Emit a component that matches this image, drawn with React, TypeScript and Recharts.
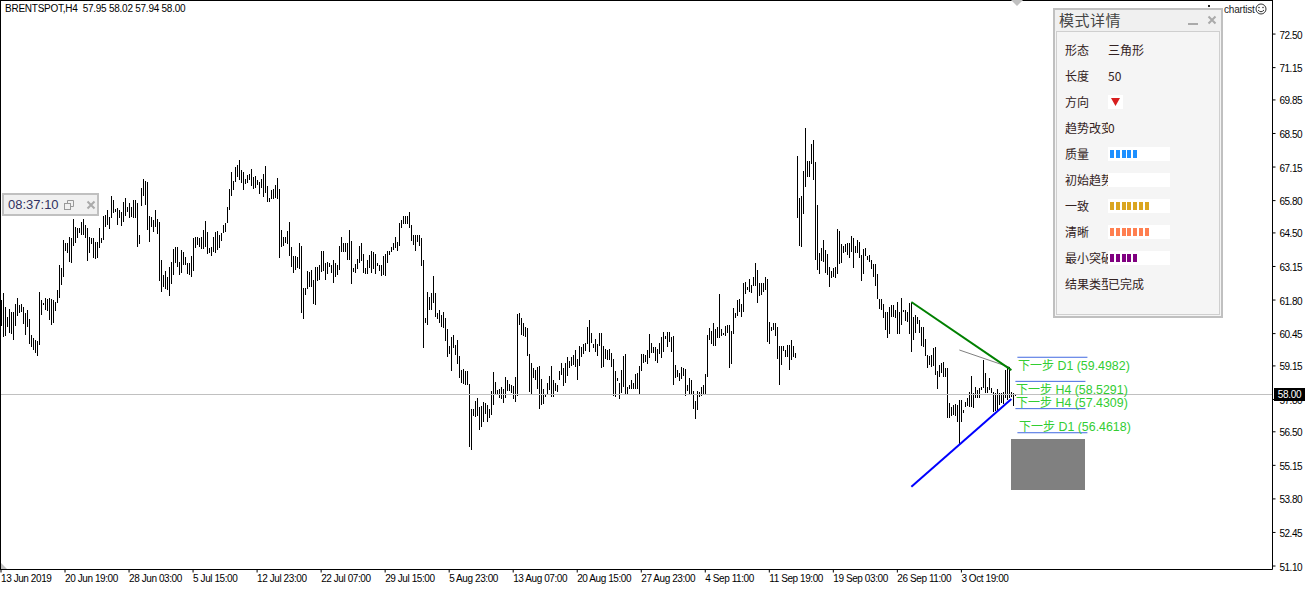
import React from "react";
import { BarChart, Bar, XAxis, YAxis, ReferenceLine, ReferenceArea } from "recharts";

const highs = [
61.80,62.07,61.50,61.13,61.42,61.33,61.33,61.64,61.87,61.60,
61.66,61.53,61.29,61.40,61.02,60.39,60.26,60.19,60.16,62.13,
61.80,61.70,61.87,61.85,61.87,61.83,61.80,61.73,62.20,63.21,
63.07,64.21,64.08,64.08,64.35,64.28,65.08,64.75,64.68,64.68,
64.95,65.06,64.82,64.68,64.32,64.28,64.28,64.15,64.15,64.68,
64.28,65.18,65.22,65.42,65.15,65.98,65.82,65.45,65.49,65.42,
65.35,65.75,65.89,65.55,65.71,65.53,65.82,65.82,65.69,64.41,
66.29,66.65,66.60,66.56,65.18,65.15,65.02,65.42,65.08,64.95,
63.41,62.80,62.98,62.74,63.14,63.34,63.84,63.92,63.94,63.34,
63.81,63.74,63.54,63.30,63.27,63.57,64.28,64.35,64.32,64.28,
64.35,64.61,64.98,64.55,63.88,63.94,64.35,64.55,64.59,64.41,
64.48,64.82,64.88,65.53,66.25,66.96,66.60,67.14,67.23,67.43,
67.03,66.96,66.65,66.83,66.89,67.06,66.76,66.79,66.63,66.56,
66.65,66.87,67.19,66.38,65.89,66.22,66.25,66.43,66.69,66.26,
64.61,64.32,64.32,64.59,64.92,63.94,63.57,63.57,63.52,64.08,
63.97,62.27,62.27,62.98,62.94,63.01,62.60,63.14,63.14,63.21,
63.78,63.78,63.27,63.34,63.27,63.21,63.43,63.27,63.21,63.97,
64.34,64.10,64.08,64.10,64.61,64.18,63.07,63.25,63.47,63.97,
64.10,63.67,63.07,63.41,63.61,63.78,63.74,63.67,63.27,63.21,
63.21,63.57,63.67,63.78,63.78,63.94,64.10,64.32,64.14,64.88,
65.02,65.18,65.18,65.18,65.34,64.81,64.41,64.41,64.41,64.41,
64.28,63.41,61.06,62.13,61.93,62.07,62.76,62.09,61.29,61.39,
61.19,61.33,61.06,60.62,59.95,60.32,60.39,59.99,60.21,59.54,
58.98,59.01,58.95,58.95,58.42,57.40,57.40,57.73,57.84,57.48,
57.53,57.71,57.67,57.57,57.40,58.15,58.89,58.51,58.18,58.24,
58.31,58.24,58.69,58.58,58.42,58.38,58.34,58.71,61.23,61.29,
61.06,60.86,60.70,60.66,59.62,59.28,59.05,58.98,59.11,59.14,
58.61,58.24,58.04,58.47,58.74,59.14,58.58,58.47,58.38,58.95,
59.25,59.05,59.28,59.49,59.36,59.52,59.58,59.79,59.41,59.95,
59.92,60.03,60.08,60.72,60.99,60.48,60.03,60.25,60.03,60.46,
60.48,59.95,59.85,59.81,59.85,59.68,59.41,58.95,58.65,58.47,
58.98,59.54,59.62,58.31,58.38,58.58,58.47,58.82,58.87,59.14,
59.62,59.62,59.58,59.79,60.43,60.08,59.92,59.92,59.85,60.06,
60.30,60.52,60.35,60.51,60.51,60.32,60.35,59.18,58.98,58.88,
59.09,59.05,59.01,58.38,58.65,58.58,58.15,57.75,58.15,58.11,
58.29,58.38,58.82,60.39,60.66,60.56,60.86,60.62,60.70,62.04,
60.62,60.46,60.75,60.79,60.79,60.56,61.46,61.29,61.80,61.83,
61.66,62.47,62.54,62.33,62.63,62.40,62.74,63.27,63.01,62.47,
62.47,62.50,62.71,62.66,60.93,60.70,60.86,60.89,60.70,59.95,
59.95,59.95,59.81,59.99,59.99,60.19,59.95,59.68,67.59,65.89,
65.98,66.99,68.74,67.39,67.39,68.07,68.24,67.36,65.62,63.70,
63.88,64.21,63.81,63.65,63.14,62.98,63.07,63.14,64.64,64.59,
64.05,63.97,64.05,64.08,64.08,64.37,64.28,63.97,64.21,64.15,
63.61,63.84,63.88,63.57,63.61,63.43,63.25,63.25,62.84,61.83,
61.83,61.64,61.33,61.33,61.53,61.60,61.60,61.40,61.73,61.33,
61.87,61.40,61.40,61.33,61.69,61.69,61.13,61.20,61.13,60.99,
60.73,60.73,60.22,59.59,59.55,59.59,59.89,59.92,58.96,59.18,
59.28,59.32,59.05,59.05,57.64,57.51,57.58,57.62,57.58,57.78,
57.78,57.38,57.71,57.84,58.11,58.74,58.05,58.29,58.18,58.25,
58.31,59.39,58.85,58.31,58.65,58.25,58.11,58.07,58.21,58.05,
58.05,58.11,58.98,59.09,59.09,58.11,58.05,58.02,
];

const lows = [
60.75,60.30,60.32,60.73,60.46,60.46,60.19,60.75,61.13,61.29,
61.33,60.86,60.39,60.73,60.03,59.92,59.79,59.65,59.55,59.99,
61.20,61.60,61.40,61.37,60.99,60.79,60.86,61.37,61.66,61.87,
62.40,62.74,63.74,63.68,63.34,63.27,64.01,64.11,64.28,64.48,
64.41,64.41,64.28,63.34,63.68,64.05,63.47,63.47,63.52,63.88,
64.08,64.21,64.75,64.82,64.68,65.08,65.31,65.31,64.82,65.08,
64.78,64.95,65.15,65.35,65.12,65.12,65.11,65.08,63.94,64.05,
65.58,65.98,65.62,64.61,64.15,64.75,64.55,64.75,64.48,62.58,
62.13,62.33,62.27,62.20,61.97,62.47,62.80,63.27,63.14,62.80,
62.87,63.21,63.21,62.87,62.80,62.74,62.94,63.92,64.01,63.92,
63.88,63.84,63.92,63.68,63.68,63.58,63.74,63.70,63.81,63.88,
64.15,64.48,64.51,64.88,65.39,65.98,66.22,66.52,66.73,66.63,
66.49,66.22,66.43,66.49,66.63,66.36,66.29,66.29,66.43,66.09,
66.29,65.96,66.12,65.75,65.71,65.85,65.85,65.89,65.85,63.47,
63.92,63.94,64.08,64.08,63.57,63.14,62.87,63.01,63.07,63.03,
61.29,61.02,61.97,62.27,62.33,62.31,61.64,61.60,62.58,62.60,
62.94,62.98,62.58,62.84,63.11,62.90,62.49,62.71,62.80,63.00,
63.74,63.74,63.70,63.41,63.41,62.47,62.90,62.90,63.07,63.27,
63.38,62.90,62.84,62.84,63.07,62.90,63.07,62.87,63.14,62.98,
62.76,62.80,62.80,63.30,63.61,63.74,63.81,63.88,63.78,63.94,
64.68,64.85,64.85,64.85,64.68,64.18,64.01,63.78,64.14,63.97,
63.14,59.88,60.86,60.79,61.39,61.39,61.66,61.13,61.06,60.86,
60.70,60.70,60.12,59.49,59.62,58.95,59.85,59.58,59.25,58.65,
58.44,58.42,58.38,58.38,55.90,55.74,57.13,57.10,57.10,56.57,
56.70,56.90,57.24,56.90,57.04,57.17,57.57,58.04,57.98,57.88,
57.84,57.67,57.84,58.15,58.15,58.07,57.80,57.71,57.93,60.79,
60.39,60.32,60.30,59.52,58.11,57.98,58.65,58.58,58.24,57.40,
57.57,57.64,57.93,58.04,58.18,57.91,57.91,58.15,58.11,58.58,
58.78,58.34,58.47,58.71,59.09,59.14,59.18,59.11,58.55,59.14,
59.52,59.62,59.76,60.05,59.72,60.08,59.85,59.72,59.54,59.92,
59.09,59.11,59.45,59.39,59.41,59.11,57.91,57.91,58.51,57.84,
58.04,58.28,57.98,57.98,58.21,58.21,58.24,58.21,58.21,58.02,
58.92,59.25,59.28,59.22,59.45,59.66,59.68,59.36,59.28,59.62,
59.44,59.72,60.22,59.92,60.12,59.72,58.37,58.65,58.69,58.55,
58.61,58.71,57.91,58.15,58.02,57.98,57.44,57.04,57.40,57.91,
57.94,58.02,58.02,58.69,60.16,60.03,59.92,59.92,60.26,60.26,
60.32,60.39,60.35,60.46,59.05,59.25,60.43,61.10,61.15,61.29,
61.15,61.29,62.07,62.20,62.09,62.07,62.36,62.36,61.69,61.93,
61.98,62.13,62.20,60.12,60.06,60.52,60.56,60.35,59.41,58.38,
59.18,59.76,59.52,59.52,58.98,59.39,59.49,59.47,65.11,63.94,
63.94,65.26,66.36,66.76,66.76,67.26,66.63,63.41,63.01,62.84,
63.34,63.34,62.87,62.80,62.33,62.71,62.71,62.71,62.84,63.27,
63.30,63.70,63.74,63.61,63.47,63.74,63.07,63.70,63.68,63.52,
62.58,62.84,63.54,63.41,63.34,63.07,62.74,62.36,61.83,61.42,
61.40,61.06,60.59,60.30,60.46,61.13,61.13,61.06,60.46,60.43,
60.79,61.33,60.97,60.93,60.46,59.72,60.19,60.46,60.86,60.46,
59.95,59.92,59.55,59.05,59.18,59.12,59.18,58.78,58.25,58.71,
58.88,58.71,58.69,57.04,57.04,57.13,57.17,57.13,56.90,56.00,
56.90,57.24,57.51,57.51,57.51,57.51,57.44,57.84,57.84,57.84,
58.18,58.25,58.05,58.05,58.18,58.05,57.31,57.35,57.38,57.58,
57.64,57.64,57.84,57.78,57.84,57.91,57.51,57.94,
];

const SLOT_COUNT = 636;
const dateLabels = ["13 Jun 2019","20 Jun 19:00","28 Jun 03:00","5 Jul 15:00","12 Jul 23:00","22 Jul 07:00","29 Jul 15:00","5 Aug 23:00","13 Aug 07:00","20 Aug 15:00","27 Aug 23:00","4 Sep 11:00","11 Sep 19:00","19 Sep 03:00","26 Sep 11:00","3 Oct 19:00"];
const BARS_PER_LABEL = 32;
const priceTicks = [72.5,71.15,69.85,68.5,67.15,65.8,64.5,63.15,61.8,60.45,59.15,57.8,56.5,55.15,53.8,52.45,51.1];
const lastPrice = 58.0;

const nextStepLevels = [59.4982,58.5291,57.4309,56.4618];
const nextStepFrames = ["D1","H4","H4","D1"];
const nextStepStart = [508,507,507,508];
const nextStepEnd = [543,542,542,543];
const nextStepTextPos = [[1018,365],[1016,389],[1016,402],[1019,426]];

const panelLabels = ["形态","长度","方向","趋势改变","质量","初始趋势","一致","清晰","最小突破","结果类型"];
const panelTexts = ["三角形","50","","0","","","","","","已完成"];
const panelBlocks = [-1,-1,-1,-1,5,0,7,7,5,-1];
const panelColors = ["","","","","#1e90ff","","#daa520","#ff7f50","#800080",""];

const data = Array.from({ length: SLOT_COUNT }, (_, i) => ({
  i,
  range: i < highs.length ? [lows[i], highs[i]] : null,
}));
const xTicks = dateLabels.map((_, k) => k * BARS_PER_LABEL);

const uiFont = '"Liberation Sans", Arial, sans-serif';
const cjkFont = '"Noto Sans CJK SC", "Liberation Sans", sans-serif';

const OhlcBar = (p: any) => {
  if (p.height === undefined || p.height === null || p.payload?.range == null) return null;
  const top = Math.min(p.y, p.y + p.height);
  return <rect x={Math.floor(p.x + 0.5)} y={Math.round(top)} width={1} height={Math.max(1, Math.round(Math.abs(p.height)))} fill="#000" />;
};

const DateTick = (p: any) => (
  <text x={p.x} y={p.y + 7} textAnchor="start" fontFamily={uiFont} fontSize={10} letterSpacing={-0.42} fill="#000">
    {dateLabels[p.payload.value / BARS_PER_LABEL]}
  </text>
);

const PriceTick = (p: any) => (
  <text x={p.x + 2} y={p.y + 4.5} textAnchor="start" fontFamily={uiFont} fontSize={10} letterSpacing={-0.5} fill="#000">
    {p.payload.value.toFixed(2)}
  </text>
);

const GreyBlock = (p: any) => (
  <rect x={Math.round(p.x + 0.5)} y={Math.round(p.y)} width={Math.round(p.width)} height={Math.round(p.height)} fill="#808080" />
);

const Abs = ({ l, t, w, h, style, children }: any) => (
  <div style={{ position: "absolute", left: l, top: t, width: w, height: h, ...style }}>{children}</div>
);

export default function App() {
  return (
    <div style={{ position: "absolute", left: 0, top: 0, width: 1306, height: 590, background: "#fff", overflow: "hidden" }}>
      <BarChart width={1306} height={590} data={data} margin={{ top: 0, right: 0, bottom: 0, left: 0 }} barCategoryGap={0} barGap={0}>
        <XAxis dataKey="i" ticks={xTicks} interval={0} height={20.5} tickSize={3} tick={<DateTick />} stroke="#000" tickLine={{ stroke: "#000" }} axisLine={{ stroke: "#000" }} />
        <YAxis orientation="right" width={33.5} domain={[50.96, 73.87]} ticks={priceTicks} interval={0} allowDataOverflow tickSize={3}
          tick={<PriceTick />}
          stroke="#000" tickLine={{ stroke: "#000" }} axisLine={{ stroke: "#000" }} />
        <ReferenceLine y={lastPrice} stroke="#c0c0c0" strokeWidth={1} />
        <Bar dataKey="range" barSize={1} isAnimationActive={false} shape={<OhlcBar />} />
        <ReferenceLine segment={[{ x: 479, y: 59.79 }, { x: 504, y: 59.1 }]} stroke="#808080" strokeWidth={1} />
        <ReferenceLine segment={[{ x: 455, y: 61.72 }, { x: 505, y: 58.98 }]} stroke="#008000" strokeWidth={2} />
        <ReferenceLine segment={[{ x: 455, y: 54.29 }, { x: 505, y: 57.82 }]} stroke="#0000ff" strokeWidth={2} />
        {nextStepLevels.map((lv, k) => (
          <ReferenceLine key={k} segment={[{ x: nextStepStart[k], y: lv }, { x: nextStepEnd[k], y: lv }]} stroke="#4169e1" strokeWidth={1} />
        ))}
        <ReferenceArea x1={505} x2={541} y1={56.21} y2={54.16} fill="#808080" fillOpacity={1} stroke="none" shape={<GreyBlock />} />
      </BarChart>

      {/* frame */}
      <Abs l={0} t={0} w={1273} h={1} style={{ background: "#000" }} />
      <Abs l={0} t={0} w={1} h={570} style={{ background: "#000" }} />
      <svg style={{ position: "absolute", left: 0, top: 0 }} width={1306} height={590}>
        <polygon points="1,563 1,569 7,569" fill="#c0c0c0" />
        <polygon points="1011,0 1023,0 1017,6" fill="#c0c0c0" />
        <rect x={1208} y={5} width={2} height={2} fill="#222" />
      </svg>

      {/* symbol caption */}
      <Abs l={5} t={2} w={300} h={14} style={{ font: `10px ${uiFont}`, letterSpacing: -0.25, lineHeight: "13px", color: "#000", whiteSpace: "pre" }}>
        {"BRENTSPOT,H4  57.95 58.02 57.94 58.00"}
      </Abs>

      {/* next-step labels */}
      {nextStepLevels.map((lv, k) => (
        <Abs key={k} l={nextStepTextPos[k][0]} t={nextStepTextPos[k][1] - 9} w={130} h={18}
          style={{ font: `12.4px ${uiFont}`, lineHeight: "18px", color: "#32cd32", whiteSpace: "pre" }}>
          <span style={{ fontFamily: cjkFont, fontSize: 12 }}>下一步</span>{` ${nextStepFrames[k]} (${lv.toFixed(4)})`}
        </Abs>
      ))}

      {/* last price marker */}
      <Abs l={1274} t={388} w={31} h={13} style={{ background: "#000", color: "#fff", font: `10px ${uiFont}`, letterSpacing: -0.3, lineHeight: "13px", textAlign: "center" }}>
        58.00
      </Abs>

      {/* clock */}
      <Abs l={2} t={193} w={93} h={19} style={{ background: "#f0f0f0", border: "2px solid #c0c0c0", boxSizing: "content-box" }}>
        <span style={{ position: "absolute", left: 4, top: 2, font: `13px ${uiFont}`, lineHeight: "16px", color: "#303060" }}>08:37:10</span>
        <svg style={{ position: "absolute", left: 60, top: 5 }} width={11} height={10}>
          <rect x={0.5} y={3.5} width={6} height={6} fill="none" stroke="#999" />
          <path d="M3.5 3 V0.5 H9.5 V6.5 H7" fill="none" stroke="#999" />
        </svg>
        <svg style={{ position: "absolute", left: 82, top: 5 }} width={10} height={10}>
          <path d="M1.5 1.5 L8.5 8.5 M8.5 1.5 L1.5 8.5" stroke="#aaa" strokeWidth={2} />
        </svg>
      </Abs>

      {/* corner mark */}
      <Abs l={1224} t={3} w={34} h={13} style={{ font: `10px ${uiFont}`, lineHeight: "13px", color: "#222", letterSpacing: -0.2, whiteSpace: "pre" }}>chartist</Abs>
      <svg style={{ position: "absolute", left: 1255, top: 3 }} width={12} height={12}>
        <circle cx={6} cy={6} r={5} fill="none" stroke="#333" />
        <circle cx={4} cy={4.5} r={0.8} fill="#333" />
        <circle cx={8} cy={4.5} r={0.8} fill="#333" />
        <path d="M3 7 Q6 10.5 9 7" fill="none" stroke="#333" />
      </svg>

      {/* pattern panel */}
      <Abs l={1053} t={8} w={170} h={310} style={{ background: "#f5f5f5", border: "2px solid #c0c0c0", boxSizing: "border-box" }}>
        <Abs l={0} t={0} w={166} h={21} style={{ background: "#f0f0f0" }} />
        <Abs l={1} t={21} w={164} h={284} style={{ border: "1px solid #cfcfcf", boxSizing: "border-box" }} />
        <Abs l={4} t={0} w={90} h={20} style={{ font: `15px ${cjkFont}`, lineHeight: "20px", letterSpacing: 0.5, color: "#444" }}>模式详情</Abs>
        <Abs l={133} t={13} w={10} h={2} style={{ background: "#aaa" }} />
        <svg style={{ position: "absolute", left: 152, top: 5 }} width={10} height={10}>
          <path d="M1.5 1.5 L8.5 8.5 M8.5 1.5 L1.5 8.5" stroke="#aaa" strokeWidth={2} />
        </svg>
        {panelLabels.map((label, k) => {
          const cy = 50 + 26 * k - 10;
          const blocks = panelBlocks[k];
          return (
            <React.Fragment key={k}>
              <Abs l={10} t={cy - 9} w={43} h={18} style={{ overflow: "hidden", font: `12px ${cjkFont}`, lineHeight: "18px", color: "#332222", whiteSpace: "nowrap" }}>{label}</Abs>
              {panelTexts[k] !== "" && (
                <Abs l={53} t={cy - 9} w={60} h={18} style={{ font: `12px ${cjkFont}`, lineHeight: "18px", color: "#332222", whiteSpace: "nowrap" }}>{panelTexts[k]}</Abs>
              )}
              {k === 2 && (
                <Abs l={53} t={cy - 7} w={15} h={14} style={{ background: "#fff" }}>
                  <svg width={15} height={14} style={{ display: "block" }}><polygon points="3,3 12,3 7.5,11" fill="#d81e1e" /></svg>
                </Abs>
              )}
              {blocks >= 0 && (
                <Abs l={53} t={cy - 7} w={62} h={14} style={{ background: "#fff" }}>
                  {Array.from({ length: blocks }, (_, b) => (
                    <Abs key={b} l={2 + Math.round(b * 5.8)} t={3} w={4} h={8} style={{ background: panelColors[k] }} />
                  ))}
                </Abs>
              )}
            </React.Fragment>
          );
        })}
      </Abs>
    </div>
  );
}
